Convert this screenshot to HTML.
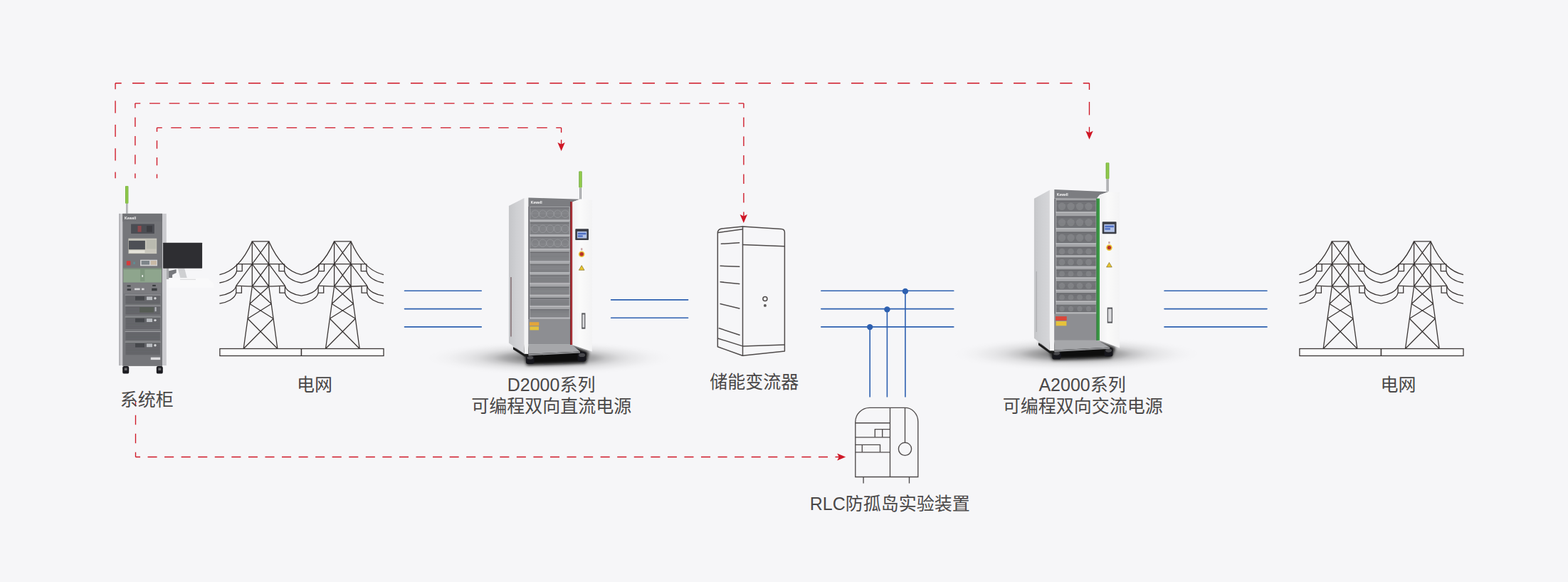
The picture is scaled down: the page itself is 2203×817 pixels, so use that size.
<!DOCTYPE html>
<html><head><meta charset="utf-8"><title>diagram</title>
<style>html,body{margin:0;padding:0;background:#f6f6f8;font-family:"Liberation Sans",sans-serif;}svg{display:block}</style>
</head><body>
<svg width="2203" height="817" viewBox="0 0 2203 817">
<rect width="2203" height="817" fill="#f6f6f8"/>
<defs>
<filter id="b2" x="-20%" y="-20%" width="140%" height="140%"><feGaussianBlur stdDeviation="2"/></filter>
<filter id="b1" x="-20%" y="-20%" width="140%" height="140%"><feGaussianBlur stdDeviation="0.9"/></filter>
<filter id="b05" x="-5%" y="-5%" width="110%" height="110%"><feGaussianBlur stdDeviation="0.45"/></filter>
<filter id="b4" x="-30%" y="-60%" width="160%" height="220%"><feGaussianBlur stdDeviation="4"/></filter>
<radialGradient id="shd" cx="0.5" cy="0.5" r="0.5"><stop offset="0" stop-color="#000" stop-opacity="0.65"/><stop offset="0.114" stop-color="#000" stop-opacity="0.58"/><stop offset="0.229" stop-color="#000" stop-opacity="0.45"/><stop offset="0.297" stop-color="#000" stop-opacity="0.37"/><stop offset="0.36" stop-color="#000" stop-opacity="0.31"/><stop offset="0.457" stop-color="#000" stop-opacity="0.19"/><stop offset="0.571" stop-color="#000" stop-opacity="0.105"/><stop offset="0.657" stop-color="#000" stop-opacity="0.066"/><stop offset="0.754" stop-color="#000" stop-opacity="0.038"/><stop offset="0.817" stop-color="#000" stop-opacity="0.02"/><stop offset="0.914" stop-color="#000" stop-opacity="0.006"/><stop offset="1" stop-color="#000" stop-opacity="0"/></radialGradient>
<linearGradient id="side" x1="0" x2="1" y1="0" y2="0"><stop offset="0" stop-color="#c5c6c9"/><stop offset="0.5" stop-color="#cfd0d3"/><stop offset="1" stop-color="#d6d6d9"/></linearGradient>
<linearGradient id="door" x1="0" x2="1" y1="0" y2="0"><stop offset="0" stop-color="#f1f1f2"/><stop offset="0.4" stop-color="#fafafa"/><stop offset="1" stop-color="#f3f3f4"/></linearGradient>
<linearGradient id="grn" x1="0" x2="1"><stop offset="0" stop-color="#6aa83a"/><stop offset="0.5" stop-color="#9bd14f"/><stop offset="1" stop-color="#6fae3c"/></linearGradient>
<linearGradient id="pole" x1="0" x2="1"><stop offset="0" stop-color="#8a8c90"/><stop offset="0.5" stop-color="#c9cacc"/><stop offset="1" stop-color="#77797d"/></linearGradient>
<pattern id="vent" width="4" height="2.2" patternUnits="userSpaceOnUse"><rect width="4" height="2.2" fill="#78797d"/><rect y="0" width="4" height="0.9" fill="#8f9094"/></pattern>
<pattern id="ventA" width="4" height="2.2" patternUnits="userSpaceOnUse"><rect width="4" height="2.2" fill="#6b6c70"/><rect y="0" width="4" height="0.8" fill="#7f8084"/></pattern>
<pattern id="vent2" width="4" height="1.8" patternUnits="userSpaceOnUse"><rect width="4" height="1.8" fill="#5d5e62"/><rect y="0" width="4" height="0.6" fill="#737478"/></pattern>
</defs>
<ellipse cx="772" cy="502.5" rx="175" ry="24" fill="url(#shd)"/>
<polygon points="722,487 738,499 740,512.5 823,509.5 827,494 806,486" fill="#0a0a0b" filter="url(#b2)"/>
<g filter="url(#b05)">
<rect x="739" y="497.8" width="11.6" height="13.2" rx="3.19" fill="#19191b"/>
<ellipse cx="744.8" cy="502.09" rx="4.35" ry="2.51" fill="#4a4a4e"/>
<rect x="811.7" y="494" width="11.8" height="13.6" rx="3.25" fill="#19191b"/>
<ellipse cx="817.6" cy="498.42" rx="4.43" ry="2.58" fill="#4a4a4e"/>
<polygon points="721,487 737,497.2 742.5,497.6 742.5,501 737,500.6 721,490.5" fill="#1d1d1f"/>
<polygon points="714.9,289.1 736.7,278 736.7,496.8 714.9,481.4" fill="url(#side)"/>
<rect x="717.2" y="389" width="1.5" height="83.5" fill="#6a4f53" opacity="0.75"/>
<polygon points="736.7,278 742.4,277.6 742.4,497.1 736.7,496.8" fill="#f3f3f4"/>
<rect x="742.4" y="290" width="62" height="193.4" fill="#a3a4a7"/>
<polygon points="742.4,277.6 814.7,279.7 804.4,283.6 801,290 742.4,290" fill="#7c7d81"/>
<text x="745.8" y="286.2" font-family="Liberation Sans, sans-serif" font-size="5" font-weight="bold" fill="#f6f6f6">Kewell</text>
<rect x="744.8" y="291.3" width="54.8" height="17.2" fill="url(#vent)"/>
<rect x="744.8" y="291.3" width="54.8" height="1.1" fill="#66676b"/>
<circle cx="752" cy="300.3" r="5.2" fill="none" stroke="#a2a3a7" stroke-width="0.9" opacity="0.6"/>
<circle cx="762.5" cy="300.3" r="5.2" fill="none" stroke="#a2a3a7" stroke-width="0.9" opacity="0.6"/>
<circle cx="773" cy="300.3" r="5.2" fill="none" stroke="#a2a3a7" stroke-width="0.9" opacity="0.6"/>
<circle cx="783.5" cy="300.3" r="5.2" fill="none" stroke="#a2a3a7" stroke-width="0.9" opacity="0.6"/>
<circle cx="794" cy="300.3" r="5.2" fill="none" stroke="#a2a3a7" stroke-width="0.9" opacity="0.6"/>
<rect x="743.3" y="308.5" width="57.8" height="1.6" fill="#b9babd"/>
<rect x="744.8" y="312.2" width="54.8" height="17.2" fill="url(#vent)"/>
<rect x="744.8" y="312.2" width="54.8" height="1.1" fill="#66676b"/>
<circle cx="752" cy="321.2" r="5.2" fill="none" stroke="#a2a3a7" stroke-width="0.9" opacity="0.6"/>
<circle cx="762.5" cy="321.2" r="5.2" fill="none" stroke="#a2a3a7" stroke-width="0.9" opacity="0.6"/>
<circle cx="773" cy="321.2" r="5.2" fill="none" stroke="#a2a3a7" stroke-width="0.9" opacity="0.6"/>
<circle cx="783.5" cy="321.2" r="5.2" fill="none" stroke="#a2a3a7" stroke-width="0.9" opacity="0.6"/>
<circle cx="794" cy="321.2" r="5.2" fill="none" stroke="#a2a3a7" stroke-width="0.9" opacity="0.6"/>
<rect x="743.3" y="329.4" width="57.8" height="1.6" fill="#b9babd"/>
<rect x="744.8" y="332.8" width="54.8" height="16.3" fill="url(#vent)"/>
<rect x="744.8" y="332.8" width="54.8" height="1.1" fill="#66676b"/>
<circle cx="752" cy="341.35" r="5.2" fill="none" stroke="#a2a3a7" stroke-width="0.9" opacity="0.6"/>
<circle cx="762.5" cy="341.35" r="5.2" fill="none" stroke="#a2a3a7" stroke-width="0.9" opacity="0.6"/>
<circle cx="773" cy="341.35" r="5.2" fill="none" stroke="#a2a3a7" stroke-width="0.9" opacity="0.6"/>
<circle cx="783.5" cy="341.35" r="5.2" fill="none" stroke="#a2a3a7" stroke-width="0.9" opacity="0.6"/>
<circle cx="794" cy="341.35" r="5.2" fill="none" stroke="#a2a3a7" stroke-width="0.9" opacity="0.6"/>
<rect x="743.3" y="349.1" width="57.8" height="1.6" fill="#b9babd"/>
<rect x="744.8" y="353.7" width="54.8" height="12.9" fill="url(#vent)"/>
<rect x="744.8" y="353.7" width="54.8" height="1.1" fill="#66676b"/>
<rect x="743.3" y="366.6" width="57.8" height="1.6" fill="#b9babd"/>
<rect x="744.8" y="370.9" width="54.8" height="11.3" fill="url(#vent)"/>
<rect x="744.8" y="370.9" width="54.8" height="1.1" fill="#66676b"/>
<rect x="743.3" y="382.2" width="57.8" height="1.6" fill="#b9babd"/>
<rect x="744.8" y="386.3" width="54.8" height="11.1" fill="url(#vent)"/>
<rect x="744.8" y="386.3" width="54.8" height="1.1" fill="#66676b"/>
<rect x="743.3" y="397.4" width="57.8" height="1.6" fill="#b9babd"/>
<rect x="744.8" y="402.6" width="54.8" height="11.1" fill="url(#vent)"/>
<rect x="744.8" y="402.6" width="54.8" height="1.1" fill="#66676b"/>
<rect x="743.3" y="413.7" width="57.8" height="1.6" fill="#b9babd"/>
<rect x="744.8" y="418" width="54.8" height="11.1" fill="url(#vent)"/>
<rect x="744.8" y="418" width="54.8" height="1.1" fill="#66676b"/>
<rect x="743.3" y="429.1" width="57.8" height="1.6" fill="#b9babd"/>
<rect x="744.8" y="434.3" width="54.8" height="11.3" fill="url(#vent)"/>
<rect x="744.8" y="434.3" width="54.8" height="1.1" fill="#66676b"/>
<rect x="743.3" y="445.6" width="57.8" height="1.6" fill="#b9babd"/>
<rect x="742.4" y="290" width="1.6" height="158" fill="#6a6b6f"/>
<rect x="742.4" y="448" width="58.6" height="35.4" fill="#8d8e92"/>
<polygon points="742.4,483.4 801,483.4 806,486 815,493.5 742.4,496.8" fill="#a6a7aa"/>
<polygon points="742.4,496.8 815,493.5 815,495.5 742.4,499.3" fill="#8b8c8f"/>
<rect x="744" y="452.2" width="13.3" height="5" fill="#e3a53a"/>
<rect x="744.4" y="458.4" width="12.6" height="5" fill="#e6c23a"/>
<rect x="801" y="283.1" width="3.4" height="200.9" fill="#a93039"/>
<rect x="801" y="283.1" width="0.9" height="200.9" fill="#6f1f26"/>
<polygon points="804.4,283.6 814.7,279.7 831.8,280.6 831.8,493.4 804.4,484.2" fill="url(#door)"/>
<rect x="808.3" y="321.3" width="18.7" height="15.8" rx="0.8" fill="#3b3e44"/>
<rect x="810.9" y="324.9" width="13.5" height="9.6" fill="#b4c3e6"/>
<rect x="811.9" y="326.7" width="11.5" height="2.6" fill="#4f6fc4"/>
<rect x="811.9" y="330.3" width="6.9" height="2.4" fill="#4f6fc4"/>
<rect x="816" y="348.3" width="2.4" height="3" fill="#c9a9a9"/>
<circle cx="817.2" cy="356.8" r="4.3" fill="#e9c63a"/><circle cx="817.2" cy="356.8" r="2.7" fill="#b8332a"/>
<path d="M817.2 372.6 L821.1 379.2 L813.3 379.2 Z" fill="#e8c52f" stroke="#5a4a10" stroke-width="0.5"/>
<rect x="817.2" y="439.4" width="5.2" height="22.3" fill="#55565a"/>
<rect x="818.4" y="441.4" width="2.8" height="18.3" fill="#d9d9db"/>
<rect x="814" y="263.4" width="3" height="16.1" fill="url(#pole)"/>
<rect x="813.3" y="240.3" width="4.4" height="23.1" rx="1.2" fill="url(#grn)"/>
</g>
<ellipse cx="1512" cy="497" rx="175" ry="24" fill="url(#shd)"/>
<polygon points="1459,481 1475,493 1479,505 1561,502 1567,488 1546,480" fill="#0a0a0b" filter="url(#b2)"/>
<g filter="url(#b05)">
<rect x="1478.2" y="491.8" width="12.4" height="12.8" rx="3.41" fill="#19191b"/>
<ellipse cx="1484.4" cy="495.96" rx="4.65" ry="2.43" fill="#4a4a4e"/>
<rect x="1551.7" y="488" width="11.8" height="12.4" rx="3.25" fill="#19191b"/>
<ellipse cx="1557.6" cy="492.03" rx="4.43" ry="2.36" fill="#4a4a4e"/>
<polygon points="1459,481 1475,492.6 1481.4,493 1481.4,496.4 1475,496 1459,484.5" fill="#1d1d1f"/>
<polygon points="1452.9,278.7 1474.9,266.8 1474.9,492.2 1452.9,474.7" fill="url(#side)"/>
<rect x="1455.5" y="381" width="1.5" height="85" fill="#a9aaad" opacity="0.75"/>
<polygon points="1474.9,266.8 1481.3,265.9 1481.3,492.5 1474.9,492.2" fill="#f3f3f4"/>
<rect x="1481.3" y="278.6" width="63.7" height="199.2" fill="#a3a4a7"/>
<polygon points="1481.3,265.9 1557.5,269.2 1545,273.5 1540.6,278.8 1481.3,278.6" fill="#7c7d81"/>
<text x="1484.8" y="274.8" font-family="Liberation Sans, sans-serif" font-size="5" font-weight="bold" fill="#f6f6f6">Kewell</text>
<rect x="1484.1" y="281.5" width="55.5" height="15.6" fill="url(#ventA)"/>
<rect x="1484.1" y="281.5" width="55.5" height="1.1" fill="#66676b"/>
<circle cx="1492" cy="289.7" r="5.2" fill="#8b8c90" stroke="none" stroke-width="0.9" opacity="0.6"/>
<circle cx="1504.5" cy="289.7" r="5.2" fill="#8b8c90" stroke="none" stroke-width="0.9" opacity="0.6"/>
<circle cx="1517" cy="289.7" r="5.2" fill="#8b8c90" stroke="none" stroke-width="0.9" opacity="0.6"/>
<circle cx="1529.5" cy="289.7" r="5.2" fill="#8b8c90" stroke="none" stroke-width="0.9" opacity="0.6"/>
<rect x="1482.6" y="297.1" width="58.5" height="1.6" fill="#b9babd"/>
<rect x="1484.1" y="303.5" width="55.5" height="16.6" fill="url(#ventA)"/>
<rect x="1484.1" y="303.5" width="55.5" height="1.1" fill="#66676b"/>
<circle cx="1492" cy="312.2" r="5.2" fill="#8b8c90" stroke="none" stroke-width="0.9" opacity="0.6"/>
<circle cx="1504.5" cy="312.2" r="5.2" fill="#8b8c90" stroke="none" stroke-width="0.9" opacity="0.6"/>
<circle cx="1517" cy="312.2" r="5.2" fill="#8b8c90" stroke="none" stroke-width="0.9" opacity="0.6"/>
<circle cx="1529.5" cy="312.2" r="5.2" fill="#8b8c90" stroke="none" stroke-width="0.9" opacity="0.6"/>
<rect x="1482.6" y="320.1" width="58.5" height="1.6" fill="#b9babd"/>
<rect x="1484.1" y="325.6" width="55.5" height="15.6" fill="url(#ventA)"/>
<rect x="1484.1" y="325.6" width="55.5" height="1.1" fill="#66676b"/>
<circle cx="1492" cy="333.8" r="5.2" fill="#8b8c90" stroke="none" stroke-width="0.9" opacity="0.6"/>
<circle cx="1504.5" cy="333.8" r="5.2" fill="#8b8c90" stroke="none" stroke-width="0.9" opacity="0.6"/>
<circle cx="1517" cy="333.8" r="5.2" fill="#8b8c90" stroke="none" stroke-width="0.9" opacity="0.6"/>
<circle cx="1529.5" cy="333.8" r="5.2" fill="#8b8c90" stroke="none" stroke-width="0.9" opacity="0.6"/>
<rect x="1482.6" y="341.2" width="58.5" height="1.6" fill="#b9babd"/>
<rect x="1484.1" y="346.7" width="55.5" height="11.8" fill="url(#ventA)"/>
<rect x="1484.1" y="346.7" width="55.5" height="1.1" fill="#66676b"/>
<circle cx="1492" cy="353" r="4.3" fill="#8b8c90" stroke="none" stroke-width="0.9" opacity="0.6"/>
<circle cx="1504.5" cy="353" r="4.3" fill="#8b8c90" stroke="none" stroke-width="0.9" opacity="0.6"/>
<circle cx="1517" cy="353" r="4.3" fill="#8b8c90" stroke="none" stroke-width="0.9" opacity="0.6"/>
<circle cx="1529.5" cy="353" r="4.3" fill="#8b8c90" stroke="none" stroke-width="0.9" opacity="0.6"/>
<rect x="1482.6" y="358.5" width="58.5" height="1.6" fill="#b9babd"/>
<rect x="1484.1" y="361.8" width="55.5" height="12" fill="url(#ventA)"/>
<rect x="1484.1" y="361.8" width="55.5" height="1.1" fill="#66676b"/>
<circle cx="1492" cy="368.2" r="4.4" fill="#8b8c90" stroke="none" stroke-width="0.9" opacity="0.6"/>
<circle cx="1504.5" cy="368.2" r="4.4" fill="#8b8c90" stroke="none" stroke-width="0.9" opacity="0.6"/>
<circle cx="1517" cy="368.2" r="4.4" fill="#8b8c90" stroke="none" stroke-width="0.9" opacity="0.6"/>
<circle cx="1529.5" cy="368.2" r="4.4" fill="#8b8c90" stroke="none" stroke-width="0.9" opacity="0.6"/>
<rect x="1482.6" y="373.8" width="58.5" height="1.6" fill="#b9babd"/>
<rect x="1484.1" y="378.4" width="55.5" height="11" fill="url(#ventA)"/>
<rect x="1484.1" y="378.4" width="55.5" height="1.1" fill="#66676b"/>
<circle cx="1492" cy="384.3" r="3.9" fill="#8b8c90" stroke="none" stroke-width="0.9" opacity="0.6"/>
<circle cx="1504.5" cy="384.3" r="3.9" fill="#8b8c90" stroke="none" stroke-width="0.9" opacity="0.6"/>
<circle cx="1517" cy="384.3" r="3.9" fill="#8b8c90" stroke="none" stroke-width="0.9" opacity="0.6"/>
<circle cx="1529.5" cy="384.3" r="3.9" fill="#8b8c90" stroke="none" stroke-width="0.9" opacity="0.6"/>
<rect x="1482.6" y="389.4" width="58.5" height="1.6" fill="#b9babd"/>
<rect x="1484.1" y="394.9" width="55.5" height="11.9" fill="url(#ventA)"/>
<rect x="1484.1" y="394.9" width="55.5" height="1.1" fill="#66676b"/>
<circle cx="1492" cy="401.25" r="4.35" fill="#8b8c90" stroke="none" stroke-width="0.9" opacity="0.6"/>
<circle cx="1504.5" cy="401.25" r="4.35" fill="#8b8c90" stroke="none" stroke-width="0.9" opacity="0.6"/>
<circle cx="1517" cy="401.25" r="4.35" fill="#8b8c90" stroke="none" stroke-width="0.9" opacity="0.6"/>
<circle cx="1529.5" cy="401.25" r="4.35" fill="#8b8c90" stroke="none" stroke-width="0.9" opacity="0.6"/>
<rect x="1482.6" y="406.8" width="58.5" height="1.6" fill="#b9babd"/>
<rect x="1484.1" y="411.4" width="55.5" height="11" fill="url(#ventA)"/>
<rect x="1484.1" y="411.4" width="55.5" height="1.1" fill="#66676b"/>
<circle cx="1492" cy="417.3" r="3.9" fill="#8b8c90" stroke="none" stroke-width="0.9" opacity="0.6"/>
<circle cx="1504.5" cy="417.3" r="3.9" fill="#8b8c90" stroke="none" stroke-width="0.9" opacity="0.6"/>
<circle cx="1517" cy="417.3" r="3.9" fill="#8b8c90" stroke="none" stroke-width="0.9" opacity="0.6"/>
<circle cx="1529.5" cy="417.3" r="3.9" fill="#8b8c90" stroke="none" stroke-width="0.9" opacity="0.6"/>
<rect x="1482.6" y="422.4" width="58.5" height="1.6" fill="#b9babd"/>
<rect x="1484.1" y="427.9" width="55.5" height="10.5" fill="url(#ventA)"/>
<rect x="1484.1" y="427.9" width="55.5" height="1.1" fill="#66676b"/>
<circle cx="1492" cy="433.55" r="3.65" fill="#8b8c90" stroke="none" stroke-width="0.9" opacity="0.6"/>
<circle cx="1504.5" cy="433.55" r="3.65" fill="#8b8c90" stroke="none" stroke-width="0.9" opacity="0.6"/>
<circle cx="1517" cy="433.55" r="3.65" fill="#8b8c90" stroke="none" stroke-width="0.9" opacity="0.6"/>
<circle cx="1529.5" cy="433.55" r="3.65" fill="#8b8c90" stroke="none" stroke-width="0.9" opacity="0.6"/>
<rect x="1482.6" y="438.4" width="58.5" height="1.6" fill="#b9babd"/>
<rect x="1481.3" y="278.6" width="1.6" height="162.2" fill="#6a6b6f"/>
<rect x="1481.3" y="440.8" width="59.3" height="37" fill="#8d8e92"/>
<polygon points="1481.3,477.8 1540.6,477.8 1546,480 1559.3,487.6 1481.3,491.6" fill="#a6a7aa"/>
<polygon points="1481.3,491.6 1559.3,487.6 1559.3,489.8 1481.3,494" fill="#8b8c8f"/>
<rect x="1483.1" y="444.1" width="15.6" height="5.9" fill="#d9473a"/>
<rect x="1483.6" y="451" width="14.8" height="6.3" fill="#e6c23a"/>
<rect x="1540.6" y="278.7" width="4.4" height="199.1" fill="#3c9a46"/>
<rect x="1540.6" y="278.7" width="0.9" height="199.1" fill="#1f6b2c"/>
<polygon points="1545,273.5 1557.5,269.2 1573.1,269.8 1573.1,488.6 1545,477.8" fill="url(#door)"/>
<rect x="1548.7" y="311.2" width="19.8" height="17.1" rx="0.8" fill="#3b3e44"/>
<rect x="1551.3" y="314.8" width="14.6" height="10.9" fill="#b4c3e6"/>
<rect x="1552.3" y="316.6" width="12.6" height="2.6" fill="#4f6fc4"/>
<rect x="1552.3" y="320.2" width="7.56" height="2.4" fill="#4f6fc4"/>
<rect x="1557.2" y="339.1" width="2.4" height="3" fill="#c9a9a9"/>
<circle cx="1558.4" cy="347.6" r="4.3" fill="#e9c63a"/><circle cx="1558.4" cy="347.6" r="2.7" fill="#b8332a"/>
<path d="M1558.4 368.4 L1562.3 375 L1554.5 375 Z" fill="#e8c52f" stroke="#5a4a10" stroke-width="0.5"/>
<rect x="1555.7" y="431.6" width="7.3" height="22" fill="#55565a"/>
<rect x="1556.9" y="433.6" width="4.9" height="18" fill="#d9d9db"/>
<rect x="1554.5" y="251.2" width="3" height="17.4" fill="url(#pole)"/>
<rect x="1553.6" y="228.3" width="4.8" height="22.9" rx="1.2" fill="url(#grn)"/>
</g>
<g filter="url(#b05)">
<rect x="172.2" y="514" width="9" height="10.6" rx="2.2" fill="#1e1e20"/>
<rect x="174.79999999999998" y="516.4" width="3.8" height="3.6" fill="#6a6a6d"/>
<rect x="219.8" y="514" width="9" height="10.6" rx="2.2" fill="#1e1e20"/>
<rect x="222.4" y="516.4" width="3.8" height="3.6" fill="#6a6a6d"/>
<rect x="167" y="299.9" width="66.8" height="213.2" fill="#cbcbcf"/>
<rect x="167" y="299.9" width="2" height="213.2" fill="#b4b4b8"/>
<rect x="172.3" y="299.9" width="55.7" height="214" fill="#75767a"/>
<rect x="172.3" y="299.9" width="55.7" height="11" fill="#727377"/>
<text x="175" y="308.2" font-family="Liberation Sans, sans-serif" font-size="5.1" font-weight="bold" fill="#f6f6f6">Kewell</text>
<rect x="184.1" y="314.5" width="32.8" height="13.4" fill="#4c4d52"/>
<rect x="193.5" y="317" width="5" height="8.6" fill="#a0474d" opacity="0.8"/>
<rect x="206" y="317" width="8" height="8.6" fill="#3c3d42"/>
<rect x="180.4" y="334.7" width="39.8" height="21.4" fill="#c9c7bd"/>
<rect x="180.9" y="337.8" width="23" height="12.4" fill="#4d4f54"/>
<rect x="205.5" y="336.5" width="14" height="13" fill="#b9bab0"/>
<rect x="181.5" y="351.4" width="22" height="3.6" fill="#e5e3da"/>
<rect x="177.8" y="366.3" width="5.6" height="6.2" rx="1" fill="#d63a3a"/>
<rect x="187.3" y="367.6" width="2.6" height="3.2" fill="#5e8f97"/>
<rect x="197" y="364.7" width="24" height="8.6" fill="#d0d0d2"/>
<rect x="198.6" y="366" width="11.4" height="5.6" fill="#7d8489"/>
<rect x="211.6" y="366" width="8.4" height="5.8" fill="#c8b9a6"/>
<rect x="173.3" y="376.6" width="53.7" height="20" fill="#8ea58d"/>
<rect x="173.3" y="376.6" width="53.7" height="1.6" fill="#7a8f7b"/>
<rect x="197" y="378" width="6.4" height="16.8" fill="#7f977f"/>
<rect x="199.4" y="386" width="1.6" height="3" fill="#e9eee9"/>
<rect x="173.3" y="397.2" width="53.7" height="15" fill="#7b7c80"/>
<rect x="178.6" y="400.3" width="5" height="2.2" fill="#3b3c40"/>
<rect x="178.6" y="405.3" width="5.4" height="2.6" fill="#3b3c40"/>
<rect x="214.2" y="399.8" width="4.6" height="2.2" fill="#3b3c40"/>
<rect x="213.2" y="404.6" width="7.4" height="3.6" fill="#3b3c40"/>
<rect x="189" y="404.6" width="7.6" height="2.6" fill="#d7d7d9"/><rect x="199" y="404.6" width="3.6" height="2.6" fill="#d7d7d9"/>
<rect x="176.5" y="414.6" width="48.4" height="12.2" fill="url(#vent2)"/>
<rect x="175.6" y="413.6" width="50.2" height="1" fill="#9c9da0"/>
<rect x="190" y="416" width="13" height="5.6" fill="#44464b"/>
<rect x="206" y="416.4" width="8" height="4.8" fill="#b9bcc0"/>
<circle cx="218" cy="418.8" r="1.7" fill="#d5d6d8"/>
<rect x="176.5" y="429.7" width="48.4" height="11.8" fill="url(#vent2)"/>
<rect x="175.6" y="428.7" width="50.2" height="1" fill="#9c9da0"/>
<rect x="196" y="431.1" width="20" height="7.6" fill="#565b55"/>
<rect x="217.6" y="431.1" width="2" height="6" fill="#b9bcc0"/>
<rect x="176.5" y="445.4" width="48.4" height="16.6" fill="url(#vent2)"/>
<rect x="175.6" y="444.4" width="50.2" height="1" fill="#9c9da0"/>
<rect x="190" y="446.8" width="13" height="5.6" fill="#44464b"/>
<rect x="206" y="447.2" width="8" height="4.8" fill="#b9bcc0"/>
<circle cx="218" cy="449.6" r="1.7" fill="#d5d6d8"/>
<rect x="176.5" y="466" width="48.4" height="11.7" fill="url(#vent2)"/>
<rect x="175.6" y="465" width="50.2" height="1" fill="#9c9da0"/>
<rect x="176.5" y="480.6" width="48.4" height="17.7" fill="url(#vent2)"/>
<rect x="175.6" y="479.6" width="50.2" height="1" fill="#9c9da0"/>
<rect x="190" y="482" width="13" height="5.6" fill="#44464b"/>
<rect x="206" y="482.4" width="8" height="4.8" fill="#b9bcc0"/>
<circle cx="218" cy="484.8" r="1.7" fill="#d5d6d8"/>
<rect x="211.8" y="501.6" width="13.4" height="3.5" fill="#dcdcde"/>
<polygon points="236.6,380.6 247.7,378 247.7,383.1 242.1,385.7 242.1,390 236.6,390" fill="#77797d"/>
<polygon points="249.9,377 259.3,377 262.7,390 253.3,390" fill="#cfd0d2"/>
<polygon points="236.6,390.6 293.5,390.6 293.5,392.4 300,398 300,404 236.6,404" fill="#f9f9fa"/>
<rect x="253" y="391.8" width="22" height="0.9" fill="#c9c9cc" opacity="0.8"/>
<rect x="233.8" y="372" width="3.4" height="20" fill="#a9aaad"/>
<rect x="229.1" y="340.7" width="55" height="36" rx="0.6" fill="#2f2f31"/>
<rect x="177.2" y="285" width="2.2" height="15" fill="url(#pole)"/>
<rect x="176" y="261" width="4.4" height="24.8" rx="1" fill="url(#grn)"/>
</g>
<g fill="none" stroke-linecap="butt">
<line x1="162.05" y1="250.2" x2="162.05" y2="116.75" stroke="#cf1726" stroke-width="1.35" stroke-dasharray="17.2 16.16" stroke-dashoffset="8.6"/>
<line x1="162.05" y1="116.75" x2="1530.5" y2="116.75" stroke="#cf1726" stroke-width="1.35" stroke-dasharray="17.25 15.33" stroke-dashoffset="8.62"/>
<line x1="1530.5" y1="116.75" x2="1530.5" y2="187.5" stroke="#cf1726" stroke-width="1.35" stroke-dasharray="18.5 16.88" stroke-dashoffset="9.25"/>
<line x1="189.9" y1="250.2" x2="189.9" y2="145.05" stroke="#cf1726" stroke-width="1.35" stroke-dasharray="13.4 12.89" stroke-dashoffset="6.7"/>
<line x1="189.9" y1="145.05" x2="1044.9" y2="145.05" stroke="#cf1726" stroke-width="1.35" stroke-dasharray="14.8 12.78" stroke-dashoffset="7.4"/>
<line x1="1044.9" y1="145.05" x2="1044.9" y2="304.3" stroke="#cf1726" stroke-width="1.35" stroke-dasharray="13.5 13.04" stroke-dashoffset="6.75"/>
<line x1="220.5" y1="250.2" x2="220.5" y2="179.35" stroke="#cf1726" stroke-width="1.35" stroke-dasharray="11.4 12.22" stroke-dashoffset="5.7"/>
<line x1="220.5" y1="179.35" x2="788.6" y2="179.35" stroke="#cf1726" stroke-width="1.35" stroke-dasharray="14.6 12.45" stroke-dashoffset="7.3"/>
<line x1="788.6" y1="179.35" x2="788.6" y2="186.2" stroke="#cf1726" stroke-width="1.35"/>
<line x1="788.6" y1="196.2" x2="788.6" y2="205" stroke="#cf1726" stroke-width="1.35"/>
<line x1="190.5" y1="563.5" x2="190.5" y2="641.5" stroke="#cf1726" stroke-width="1.35" stroke-dasharray="13.7 12.3" stroke-dashoffset="6.85"/>
<line x1="190.5" y1="641.5" x2="1180" y2="641.5" stroke="#cf1726" stroke-width="1.35" stroke-dasharray="13.08 10.48" stroke-dashoffset="6.54"/>
</g>
<path fill="#cf1726" d="M1530.5 195.8 L1525.3 183.8 L1530.5 186.2 L1535.7 183.8 Z"/>
<path fill="#cf1726" d="M1044.8 313.1 L1039.6 301.1 L1044.8 303.5 L1050 301.1 Z"/>
<path fill="#cf1726" d="M788.6 212 L783.4 200 L788.6 202.4 L793.8 200 Z"/>
<path fill="#cf1726" d="M1188.2 641.5 L1176.2 636.5 L1178.8 641.5 L1176.2 646.5 Z"/>
<g stroke="#2d60b0" stroke-width="1.6" stroke-linecap="round" fill="none">
<line x1="568.5" y1="408.3" x2="676.3" y2="408.3"/>
<line x1="1153.8" y1="408.3" x2="1339.8" y2="408.3"/>
<line x1="1636" y1="408.3" x2="1780" y2="408.3"/>
<line x1="568.5" y1="433.6" x2="676.3" y2="433.6"/>
<line x1="1153.8" y1="433.6" x2="1339.8" y2="433.6"/>
<line x1="1636" y1="433.6" x2="1780" y2="433.6"/>
<line x1="568.5" y1="458.9" x2="676.3" y2="458.9"/>
<line x1="1153.8" y1="458.9" x2="1339.8" y2="458.9"/>
<line x1="1636" y1="458.9" x2="1780" y2="458.9"/>
<line x1="858.6" y1="420.9" x2="966.6" y2="420.9"/>
<line x1="858.6" y1="446.2" x2="966.6" y2="446.2"/>
<line x1="1222.2" y1="458.9" x2="1222.2" y2="557.5" stroke-linecap="butt"/>
<line x1="1246.4" y1="433.6" x2="1246.4" y2="557.5" stroke-linecap="butt"/>
<line x1="1271.9" y1="408.3" x2="1271.9" y2="557.5" stroke-linecap="butt"/>
</g>
<circle cx="1222.2" cy="459.1" r="4.2" fill="#2d60b0"/>
<circle cx="1246.4" cy="434.4" r="4.2" fill="#2d60b0"/>
<circle cx="1271.9" cy="408.9" r="4.2" fill="#2d60b0"/>
<g transform="translate(0 0)" fill="none" stroke="#3b3635" stroke-width="1.3" stroke-linejoin="miter">
<rect x="308.9" y="489.5" width="230.1" height="10" fill="#fdfdfd"/>
<line x1="423.4" y1="489.5" x2="423.4" y2="499.5" stroke-width="1.6"/>
<path d="M342.2 489.5 L354.3 402 L354.3 338.9 L377.8 338.9 L377.8 402 L389.9 489.5 M354.3 338.9 L377.8 370.6 M377.8 338.9 L354.3 370.6 M354.3 370.6 L377.8 402 M377.8 370.6 L354.3 402 M354.3 402 L381.19 426.5 M377.8 402 L350.91 426.5 M350.91 426.5 L384.06 447.3 M381.19 426.5 L348.04 447.3 M348.04 447.3 L389.9 489.5 M384.06 447.3 L342.2 489.5 M333.2 370.6 L399 370.6 M331.8 401.2 Q366.05 403.2 400.4 401.2 M354.3 370.6 L331.8 401.2 M377.8 370.6 L400.4 401.2 M332.6 370.6 v10 h7.6 v-10 M399.6 370.6 v10 h-7.6 v-10 M331.8 401.4 v9.8 h7.6 v-9.4 M400.4 401.4 v9.8 h-7.6 v-9.4"/>
<path d="M457.5 489.5 L469.6 402 L469.6 338.9 L493.1 338.9 L493.1 402 L505.2 489.5 M469.6 338.9 L493.1 370.6 M493.1 338.9 L469.6 370.6 M469.6 370.6 L493.1 402 M493.1 370.6 L469.6 402 M469.6 402 L496.49 426.5 M493.1 402 L466.21 426.5 M466.21 426.5 L499.36 447.3 M496.49 426.5 L463.34 447.3 M463.34 447.3 L505.2 489.5 M499.36 447.3 L457.5 489.5 M448.5 370.6 L514.3 370.6 M447.1 401.2 Q481.35 403.2 515.7 401.2 M469.6 370.6 L447.1 401.2 M493.1 370.6 L515.7 401.2 M447.9 370.6 v10 h7.6 v-10 M514.9 370.6 v10 h-7.6 v-10 M447.1 401.4 v9.8 h7.6 v-9.4 M515.7 401.4 v9.8 h-7.6 v-9.4"/>
<path d="M354.3 338.9 C341.45 367.85 325.84 381.86 308.4 385.6 M377.8 338.9 C390.57 367.85 406.07 381.86 423.4 385.6 M469.6 338.9 C456.66 367.85 440.96 381.86 423.4 385.6 M493.1 338.9 C505.95 367.85 521.56 381.86 539 385.6 M332.6 380.4 C330.66 389.53 319.29 395.34 308.4 397 M399.6 380.4 C401.5 389.53 412.69 395.34 423.4 397 M331.8 401.4 C329.93 408.99 318.93 413.82 308.4 415.2 M400.4 401.4 C402.24 408.99 413.05 413.82 423.4 415.2 M331.8 411.2 C329.93 419.45 318.93 424.7 308.4 426.2 M400.4 411.2 C402.24 419.45 413.05 424.7 423.4 426.2 M447.9 380.4 C445.94 389.53 434.42 395.34 423.4 397 M514.9 380.4 C516.83 389.53 528.15 395.34 539 397 M447.1 401.4 C445.2 408.99 434.06 413.82 423.4 415.2 M515.7 401.4 C517.56 408.99 528.51 413.82 539 415.2 M447.1 411.2 C445.2 419.45 434.06 424.7 423.4 426.2 M515.7 411.2 C517.56 419.45 528.51 424.7 539 426.2" stroke-width="1.35"/>
</g>
<g transform="translate(1517 0)" fill="none" stroke="#3b3635" stroke-width="1.3" stroke-linejoin="miter">
<rect x="308.9" y="489.5" width="230.1" height="10" fill="#fdfdfd"/>
<line x1="423.4" y1="489.5" x2="423.4" y2="499.5" stroke-width="1.6"/>
<path d="M342.2 489.5 L354.3 402 L354.3 338.9 L377.8 338.9 L377.8 402 L389.9 489.5 M354.3 338.9 L377.8 370.6 M377.8 338.9 L354.3 370.6 M354.3 370.6 L377.8 402 M377.8 370.6 L354.3 402 M354.3 402 L381.19 426.5 M377.8 402 L350.91 426.5 M350.91 426.5 L384.06 447.3 M381.19 426.5 L348.04 447.3 M348.04 447.3 L389.9 489.5 M384.06 447.3 L342.2 489.5 M333.2 370.6 L399 370.6 M331.8 401.2 Q366.05 403.2 400.4 401.2 M354.3 370.6 L331.8 401.2 M377.8 370.6 L400.4 401.2 M332.6 370.6 v10 h7.6 v-10 M399.6 370.6 v10 h-7.6 v-10 M331.8 401.4 v9.8 h7.6 v-9.4 M400.4 401.4 v9.8 h-7.6 v-9.4"/>
<path d="M457.5 489.5 L469.6 402 L469.6 338.9 L493.1 338.9 L493.1 402 L505.2 489.5 M469.6 338.9 L493.1 370.6 M493.1 338.9 L469.6 370.6 M469.6 370.6 L493.1 402 M493.1 370.6 L469.6 402 M469.6 402 L496.49 426.5 M493.1 402 L466.21 426.5 M466.21 426.5 L499.36 447.3 M496.49 426.5 L463.34 447.3 M463.34 447.3 L505.2 489.5 M499.36 447.3 L457.5 489.5 M448.5 370.6 L514.3 370.6 M447.1 401.2 Q481.35 403.2 515.7 401.2 M469.6 370.6 L447.1 401.2 M493.1 370.6 L515.7 401.2 M447.9 370.6 v10 h7.6 v-10 M514.9 370.6 v10 h-7.6 v-10 M447.1 401.4 v9.8 h7.6 v-9.4 M515.7 401.4 v9.8 h-7.6 v-9.4"/>
<path d="M354.3 338.9 C341.45 367.85 325.84 381.86 308.4 385.6 M377.8 338.9 C390.57 367.85 406.07 381.86 423.4 385.6 M469.6 338.9 C456.66 367.85 440.96 381.86 423.4 385.6 M493.1 338.9 C505.95 367.85 521.56 381.86 539 385.6 M332.6 380.4 C330.66 389.53 319.29 395.34 308.4 397 M399.6 380.4 C401.5 389.53 412.69 395.34 423.4 397 M331.8 401.4 C329.93 408.99 318.93 413.82 308.4 415.2 M400.4 401.4 C402.24 408.99 413.05 413.82 423.4 415.2 M331.8 411.2 C329.93 419.45 318.93 424.7 308.4 426.2 M400.4 411.2 C402.24 419.45 413.05 424.7 423.4 426.2 M447.9 380.4 C445.94 389.53 434.42 395.34 423.4 397 M514.9 380.4 C516.83 389.53 528.15 395.34 539 397 M447.1 401.4 C445.2 408.99 434.06 413.82 423.4 415.2 M515.7 401.4 C517.56 408.99 528.51 413.82 539 415.2 M447.1 411.2 C445.2 419.45 434.06 424.7 423.4 426.2 M515.7 411.2 C517.56 419.45 528.51 424.7 539 426.2" stroke-width="1.35"/>
</g>
<g fill="none" stroke="#4f4b4b" stroke-width="1.5" stroke-linejoin="round" stroke-linecap="round">
<path d="M1043.4 317.9 L1013.7 320.9 Q1008.3 321.8 1008.3 327.2 L1008.3 486.7 L1041.8 498.7 Q1043.6 499.4 1045.6 499.1 L1102.4 493.1 L1102.4 326.2 Q1102.4 321.7 1097.7 321.4 Z"/>
<path d="M1043.5 317.9 L1043.5 499.2"/>
<path d="M1009.2 326.4 L1043.4 321.7"/>
<path d="M1043.5 343.6 L1102.4 345.7"/>
<path d="M1008.6 475 L1043.4 485.9 L1102.2 483.9"/>
<path d="M1013.3 342.3 L1038.6 340.7 M1012.1 373.3 L1038.8 374.3 M1012.1 395.8 L1038.8 398.4 M1012.1 426.5 L1038.8 433.1 M1010.3 460.8 L1039 470.2"/>
<circle cx="1074.9" cy="419.6" r="3"/><circle cx="1074.9" cy="428.9" r="1.2"/>
</g>
<g fill="none" stroke="#4f4b4b" stroke-width="1.35">
<path d="M1201.8 669.5 L1201.8 592.4 A20 20 0 0 1 1221.8 572.4 L1271.5 572.4 A18.3 19.5 0 0 1 1289.8 591.9 L1289.8 669.5 Z"/>
<path d="M1250.5 572.4 V669.5 M1201.8 593.7 H1250.5 M1201.8 613.8 H1250.5 M1201.8 634.8 H1250.5"/>
<path d="M1250.5 602.6 H1229.3 V613.8 M1239.7 602.6 V613.8"/>
<path d="M1201.8 624.4 H1236.5 V634.8 M1211.3 624.4 V634.8"/>
<path d="M1271.5 572.4 V621.2"/><circle cx="1271.5" cy="630.3" r="9.1"/>
<path d="M1213.1 669.5 V678.5 M1277.5 669.5 V678.5"/>
</g>
<g font-family="'Liberation Sans', 'Noto Sans CJK SC', sans-serif" font-size="25" text-anchor="middle" fill="#4a4848" stroke="none">
<text x="206.3" y="570.4">系统柜</text>
<text x="442" y="549">电网</text>
<text x="774.6" y="548.9">D2000系列</text>
<text x="774.8" y="578.9">可编程双向直流电源</text>
<text x="1059.7" y="545.3">储能变流器</text>
<text x="1250.2" y="716.3">RLC防孤岛实验装置</text>
<text x="1520.6" y="548.9">A2000系列</text>
<text x="1521.2" y="578.9">可编程双向交流电源</text>
<text x="1964.5" y="549">电网</text>
</g>
</svg>
</body></html>
